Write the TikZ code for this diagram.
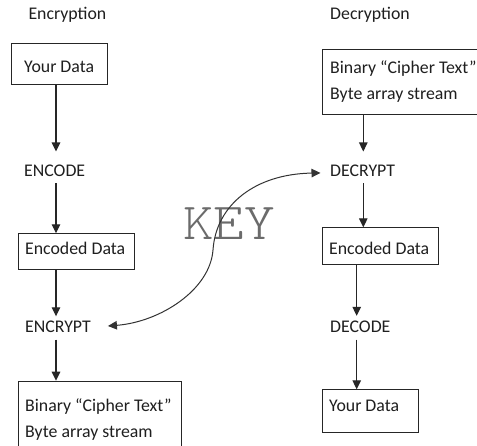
\documentclass[tikz,border=0pt]{standalone}
\usepackage{fontspec}
\setmainfont{Carlito}
\newfontfamily\keyfont{lmmonolt10-regular.otf}
\usetikzlibrary{arrows.meta,calc}
\begin{document}
\begin{tikzpicture}[x=1pt,y=-1pt,
  every node/.style={font=\fontsize{17.8pt}{26pt}\selectfont, text=black!88},
  boxnode/.style={draw=black!85, line width=1pt, anchor=north west, inner sep=0pt},
  txt/.style={anchor=base west, inner sep=0pt},
  lab/.style={anchor=base west, inner sep=0pt, text height=#1, text depth=6.5pt},
  arr/.style={draw=black!85, line width=1.1pt, -{Triangle[length=9pt,width=8.5pt]}},
  keyarr/.style={draw=black!80, line width=1pt, {Triangle[length=9pt,width=8.5pt]}-{Triangle[length=9pt,width=8.5pt]}},
  keyst/.style={inner sep=0pt, text=black!58, font=\keyfont\fontsize{52pt}{52pt}\selectfont, xscale=1.12}
]
\useasboundingbox (0,0) rectangle (477,446);
\fill[white] (0,0) rectangle (477,446);

% coordinates for vertical connectors
\coordinate (lx) at (56,0);
\coordinate (rxa) at (363.3,0);
\coordinate (rxb) at (356.7,0);

% headings
\node[txt] (henc) at (28.3,20) {Encryption};
\node[txt] (hdec) at (330,20) {Decryption};

% ---- Encryption column ----
\node[boxnode, minimum width=95.7, minimum height=41.6] (yd) at (11,42.7) {};
\node[txt] (ydt) at (24,72.5) {Your Data};

\node[lab=25pt] (encode) at (24,176.7) {ENCODE};

\node[boxnode, minimum width=116.3, minimum height=36] (ed) at (17.7,233.3) {};
\node[txt] (edt) at (25,255) {Encoded Data};

\node[lab=16.5pt] (encrypt) at (25,333) {ENCRYPT};

\node[boxnode, minimum width=163.3, minimum height=75] (bc) at (17.7,380.7) {};
\node[txt] (bct1) at (25,411.5) {Binary “Cipher Text”};
\node[txt] (bct2) at (25,438) {Byte array stream};

\draw[arr] (yd.south -| lx) -- (encode.north -| lx);
\draw[arr] (encode.south -| lx) -- (ed.north -| lx);
\draw[arr] (ed.south -| lx) -- (encrypt.north -| lx);
\draw[arr] (encrypt.south -| lx) -- (bc.north -| lx);

% ---- Decryption column ----
\node[boxnode, minimum width=170, minimum height=65] (bd) at (321.7,49) {};
\node[txt] (bdt1) at (330,73.3) {Binary “Cipher Text”};
\node[txt] (bdt2) at (330,99.3) {Byte array stream};

\node[lab=25pt] (decrypt) at (330,176.7) {DECRYPT};

\node[boxnode, minimum width=116, minimum height=36.4] (ed2) at (321.7,227.3) {};
\node[txt] (ed2t) at (329,255) {Encoded Data};

\node[lab=17pt] (decode) at (330,333) {DECODE};

\node[boxnode, minimum width=96.6, minimum height=42.7] (yd2) at (321.7,389.3) {};
\node[txt] (yd2t) at (329,411.5) {Your Data};

\draw[arr] (bd.south -| rxa) -- (decrypt.north -| rxa);
\draw[arr] (decrypt.south -| rxa) -- (ed2.north -| rxa);
\draw[arr] (ed2.south -| rxb) -- (decode.north -| rxb);
\draw[arr] (decode.south -| rxb) -- (yd2.north -| rxb);

% ---- key ----
\node[keyst] (key) at (229,223.5) {KEY};
\draw[keyarr] ($(encrypt.east)+(17,-2)$)
  .. controls (160,322) and (210,290) .. (213,250)
  .. controls (216,205) and (255,174) .. ($(decrypt.west)+(-9.5,5.5)$);
\end{tikzpicture}
\end{document}
